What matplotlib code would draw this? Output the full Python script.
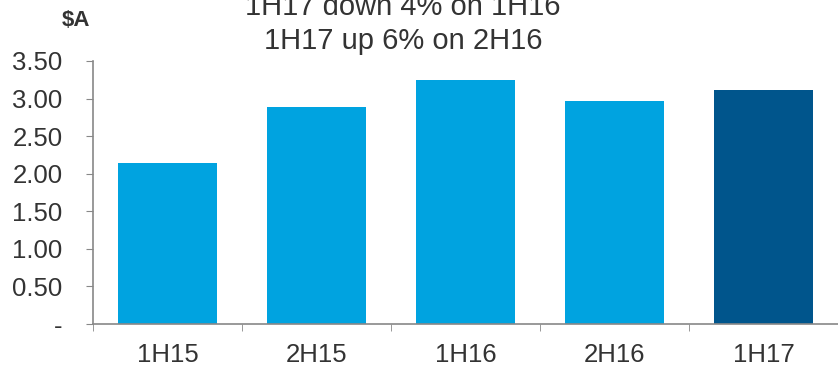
import matplotlib.pyplot as plt

# datos
periodos = ['1H15', '2H15', '1H16', '2H16', '1H17']
valores = [2.14, 2.89, 3.25, 2.97, 3.11]
colores = ['#00A3E0', '#00A3E0', '#00A3E0', '#00A3E0', '#00558C']
yticks = [0, 0.5, 1.0, 1.5, 2.0, 2.5, 3.0, 3.5]
ytick_labels = ['-', '0.50', '1.00', '1.50', '2.00', '2.50', '3.00', '3.50']

plt.rcParams['font.family'] = ['Liberation Sans', 'DejaVu Sans']

fig = plt.figure(figsize=(8.38, 3.67), dpi=100)
ax = fig.add_axes([93/838, (367-324)/367, 745/838, (324-61)/367])

x = list(range(len(periodos)))
ax.bar(x, valores, width=0.66, color=colores)

ax.set_xlim(-0.5, 4.5)
ax.set_ylim(0, 3.5)
ax.set_yticks(yticks)
ax.set_yticklabels(ytick_labels)
ax.set_xticks(x)
ax.set_xticklabels(periodos)
ax.set_xticks([i - 0.5 for i in range(6)], minor=True)
ax.tick_params(axis='x', which='major', length=0, pad=14,
               labelsize=18.5, labelcolor='#333333')
ax.tick_params(axis='x', which='minor', length=5, color='#888888')
ax.tick_params(axis='y', length=5, color='#888888', pad=17,
               labelsize=18.5, labelcolor='#333333')

for lado in ['top', 'right']:
    ax.spines[lado].set_visible(False)
for lado in ['left', 'bottom']:
    ax.spines[lado].set_color('#888888')
    ax.spines[lado].set_linewidth(1.2)

fig.text(76/838, 1 - 26/367, '$A', fontsize=16, fontweight='bold',
         color='#333333', ha='center', va='baseline')
fig.text(403/838, 1 - 15/367, '1H17 down 4% on 1H16', fontsize=21,
         color='#333333', ha='center', va='baseline')
fig.text(403/838, 1 - 49/367, '1H17 up 6% on 2H16', fontsize=21,
         color='#333333', ha='center', va='baseline')

fig.savefig('out.png', dpi=100)
